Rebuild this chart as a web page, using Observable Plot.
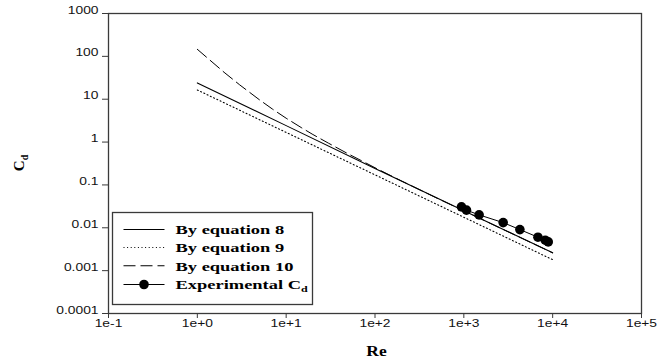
<!DOCTYPE html>
<html>
<head>
<meta charset="utf-8">
<script src="https://cdn.jsdelivr.net/npm/d3@7"></script>
<script src="https://cdn.jsdelivr.net/npm/@observablehq/plot@0.6"></script>
<style>
  html, body { margin: 0; padding: 0; background: #fff; }
  #chart svg { display: block; }
</style>
</head>
<body>
<div id="chart"></div>
<script>
// Axis ticks and their printed labels
const xTicks = [1e-1, 1e0, 1e1, 1e2, 1e3, 1e4, 1e5];
const xTickLabels = ["1e-1", "1e+0", "1e+1", "1e+2", "1e+3", "1e+4", "1e+5"];
const yTicks = [1e-4, 1e-3, 1e-2, 1e-1, 1, 10, 100, 1000];
const yTickLabels = ["0.0001", "0.001", "0.01", "0.1", "1", "10", "100", "1000"];

// Drag coefficient by equation 8
const eq8Re = [1, 10, 100, 1000, 10000];
const eq8Cd = [24, 2.42, 0.242, 0.0249, 0.0026];

// Drag coefficient by equation 9
const eq9Re = [1, 10, 100, 1000, 10000];
const eq9Cd = [16.4, 1.68, 0.172, 0.0176, 0.0018];

// Drag coefficient by equation 10
const eq10Re = [1, 2, 3, 5, 7, 10, 15, 20, 30, 50, 70, 100, 200, 500, 1000, 10000];
const eq10Cd = [146, 42.5, 21.6, 9.7, 5.9, 3.6, 2.14, 1.5, 0.94, 0.53, 0.37, 0.252, 0.123, 0.049, 0.0249, 0.0026];

// Experimental drag coefficient
const expRe = [941, 1071, 1486, 2772, 4276, 6827, 8246, 8915];
const expCd = [0.0308, 0.0258, 0.0200, 0.0132, 0.00908, 0.00603, 0.00513, 0.00469];

(function () {
  const table = (re, cd) => re.map((r, i) => ({re: r, cd: cd[i]}));
  const eq8 = table(eq8Re, eq8Cd);
  const eq9 = table(eq9Re, eq9Cd);
  const eq10 = table(eq10Re, eq10Cd);
  const experimental = table(expRe, expCd);

  const labelFor = (ticks, labels) => d => {
    const i = ticks.findIndex(t => Math.abs(Math.log10(d / t)) < 1e-6);
    return i < 0 ? "" : labels[i];
  };

  const sansFont = "'Liberation Sans', Arial, sans-serif";
  const serifFont = "'Liberation Serif', 'Times New Roman', serif";
  const axisColor = "#3a3a3a";

  const chart = Plot.plot({
    width: 671,
    height: 364,
    marginLeft: 108,
    marginRight: 30,
    marginTop: 13,
    marginBottom: 51,
    style: {fontFamily: sansFont, color: axisColor, background: "#fff"},
    x: {type: "log", domain: [1e-1, 1e5]},
    y: {type: "log", domain: [1e-4, 1e3]},
    marks: [
      Plot.frame({stroke: axisColor, strokeWidth: 1.3}),
      Plot.axisX({ticks: xTicks, tickFormat: labelFor(xTicks, xTickLabels), tickSize: 5, tickPadding: 8, fontSize: 10.8, fill: "#111", label: null}),
      Plot.axisY({ticks: yTicks, tickFormat: labelFor(yTicks, yTickLabels), tickSize: 6, tickPadding: 4, fontSize: 10.8, fill: "#111", label: null}),
      Plot.line(eq9, {x: "re", y: "cd", stroke: "#000", strokeWidth: 1.1, strokeDasharray: "1,2.6"}),
      Plot.line(eq10, {x: "re", y: "cd", stroke: "#000", strokeWidth: 1, strokeDasharray: "12,5"}),
      Plot.line(eq8, {x: "re", y: "cd", stroke: "#000", strokeWidth: 1.1}),
      Plot.line(experimental, {x: "re", y: "cd", stroke: "#000", strokeWidth: 1}),
      Plot.dot(experimental, {x: "re", y: "cd", r: 4.8, fill: "#000", stroke: "none"})
    ]
  });

  const svg = d3.select(chart);

  // Widen the tick labels horizontally, keeping each anchor point in place
  const widen = 1.28;
  svg.selectAll("text").each(function () {
    const t = d3.select(this);
    let tr = t.attr("transform") || "";
    const x = t.attr("x"), y = t.attr("y");
    if (x != null || y != null) {
      tr += ` translate(${+x || 0},${+y || 0})`;
      t.attr("x", null).attr("y", null);
    }
    t.attr("transform", `${tr} scale(${widen},1)`);
  });

  const xs = chart.scale("x"), ys = chart.scale("y");
  const [plotLeft, plotRight] = xs.range;
  const [plotBottom, plotTop] = ys.range;

  // Axis titles
  const ttl = svg.append("g").attr("font-family", serifFont).attr("font-weight", "bold").attr("fill", "#000");
  ttl.append("text")
    .attr("transform", `translate(${(plotLeft + plotRight) / 2 + 2},${plotBottom + 43}) scale(1.25,1)`)
    .attr("text-anchor", "middle")
    .attr("font-size", 14)
    .text("Re");
  const yt = ttl.append("text")
    .attr("transform", `translate(24,${(plotTop + plotBottom) / 2}) rotate(-90)`)
    .attr("text-anchor", "middle")
    .attr("font-size", 15);
  yt.append("tspan").text("C");
  yt.append("tspan").attr("font-size", 10).attr("dy", 4).text("d");

  // Legend box with its four entries
  const lg = svg.append("g").attr("text-anchor", "start");
  const boxL = plotLeft + 4.5, boxT = 212.5, boxW = 200, boxH = 92;
  lg.append("rect")
    .attr("x", boxL).attr("y", boxT).attr("width", boxW).attr("height", boxH)
    .attr("fill", "#fff").attr("stroke", axisColor).attr("stroke-width", 1.3);

  const entries = [
    {label: "By equation 8", dash: null},
    {label: "By equation 9", dash: "1,2.6"},
    {label: "By equation 10", dash: "12,5"},
    {label: "Experimental C", sub: "d", dash: null, dot: true}
  ];
  const rowY = [229.5, 247.5, 265.8, 284.5];
  const sx0 = boxL + 11, sx1 = boxL + 52, tx = boxL + 63;
  entries.forEach((e, i) => {
    const y = rowY[i];
    lg.append("line")
      .attr("x1", sx0).attr("x2", sx1).attr("y1", y).attr("y2", y)
      .attr("stroke", "#000").attr("stroke-width", 1.1)
      .attr("stroke-dasharray", e.dash);
    if (e.dot) {
      lg.append("circle").attr("cx", (sx0 + sx1) / 2).attr("cy", y).attr("r", 4.8).attr("fill", "#000");
    }
    const t = lg.append("text")
      .attr("transform", `translate(${tx},${y + 4.7}) scale(1.42,1)`)
      .attr("text-anchor", "start")
      .attr("font-family", serifFont).attr("font-weight", "bold").attr("font-size", 13)
      .attr("fill", "#000");
    t.append("tspan").text(e.label);
    if (e.sub) t.append("tspan").attr("font-size", 8.5).attr("dy", 3).text(e.sub);
  });

  document.getElementById("chart").appendChild(chart);
})();
</script>
</body>
</html>
